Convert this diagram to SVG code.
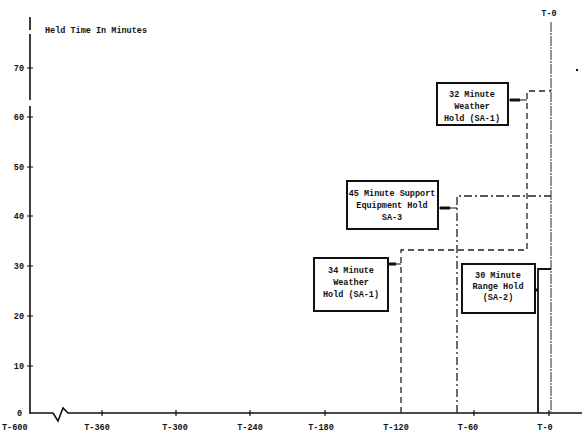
<svg xmlns="http://www.w3.org/2000/svg" width="585" height="434" viewBox="0 0 585 434">
<style>
text{font-family:"Liberation Mono","DejaVu Sans Mono",monospace;font-weight:bold;font-size:8.5px;fill:#111}
.c{text-anchor:middle}
.r{text-anchor:end}
.ax{stroke:#111;stroke-width:1.6;fill:none}
.tk{stroke:#111;stroke-width:1.2}
.box{fill:#fff;stroke:#111;stroke-width:2}
.lead{stroke:#111;stroke-width:1.2;fill:none}
.leadthick{stroke:#111;stroke-width:3}
.dash{stroke:#222;stroke-width:1.3;fill:none;stroke-dasharray:6,4}
.dashdot{stroke:#222;stroke-width:1.3;fill:none;stroke-dasharray:8,3,2,3}
.solid{stroke:#111;stroke-width:1.8;fill:none}
.t0{stroke:#666;stroke-width:1.4;fill:none;stroke-dasharray:10,1,2,1}
</style>
<rect width="585" height="434" fill="#fff"/>
<g id="axes">
<path class="ax" d="M30,17 V30 M30,34 V100 M30,106 V413"/>
<path class="ax" d="M29,413 H53 L58,421 L63,408 L68,413 H582"/>
<g class="tk">
<path d="M27,68 H33 M27,117 H33 M27,167 H33 M27,216 H33 M27,266 H33 M27,316 H33 M27,366 H33"/>
<path d="M102,410 V416 M176,410 V416 M250,410 V416 M325,410 V416 M474,410 V416 M549,410 V416"/>
</g>
<text x="45" y="33">Held Time In Minutes</text>
<text class="r" x="24" y="71">70</text>
<text class="r" x="24" y="120">60</text>
<text class="r" x="24" y="170">50</text>
<text class="r" x="24" y="219">40</text>
<text class="r" x="24" y="269">30</text>
<text class="r" x="24" y="319">20</text>
<text class="r" x="24" y="369">10</text>
<text class="r" x="22" y="416">0</text>
<text x="2" y="430">T-600</text>
<text class="c" x="97" y="430">T-360</text>
<text class="c" x="175" y="430">T-300</text>
<text class="c" x="250" y="430">T-240</text>
<text class="c" x="321" y="430">T-180</text>
<text class="c" x="396" y="430">T-120</text>
<text class="c" x="468" y="430">T-60</text>
<text class="c" x="545" y="430">T-0</text>
<text class="c" x="549" y="16">T-0</text>
<path class="t0" d="M551,22 V413"/>
<rect x="576" y="69" width="2" height="2" fill="#111"/>
</g>
<g id="connectors">
<path class="dash" d="M401,413 V250 H527 V91 H551"/>
<path class="dashdot" d="M457,413 V196 H551"/>
<path class="solid" d="M538,413 V269 H551"/>
<path class="lead" d="M508,100 H527 M438,208 H457 M388,264 H401 M535,290 H538"/>
<path class="leadthick" d="M510,100 H520 M440,208 H450 M389,264 H396 M535,290 H538"/>
</g>
<g id="hold32">
<rect class="box" x="437" y="83" width="71" height="42"/>
<text class="c" x="472" y="97">32 Minute</text>
<text class="c" x="472" y="109">Weather</text>
<text class="c" x="472" y="121">Hold (SA-1)</text>
</g>
<g id="hold45">
<rect class="box" x="347" y="181" width="91" height="48"/>
<text class="c" x="392" y="196">45 Minute Support</text>
<text class="c" x="392" y="208">Equipment Hold</text>
<text class="c" x="392" y="220">SA-3</text>
</g>
<g id="hold34">
<rect class="box" x="314" y="258" width="74" height="53"/>
<text class="c" x="351" y="273">34 Minute</text>
<text class="c" x="351" y="285">Weather</text>
<text class="c" x="351" y="297">Hold (SA-1)</text>
</g>
<g id="hold30">
<rect class="box" x="462" y="264" width="73" height="49"/>
<text class="c" x="498" y="278">30 Minute</text>
<text class="c" x="498" y="289">Range Hold</text>
<text class="c" x="498" y="300">(SA-2)</text>
</g>
</svg>
